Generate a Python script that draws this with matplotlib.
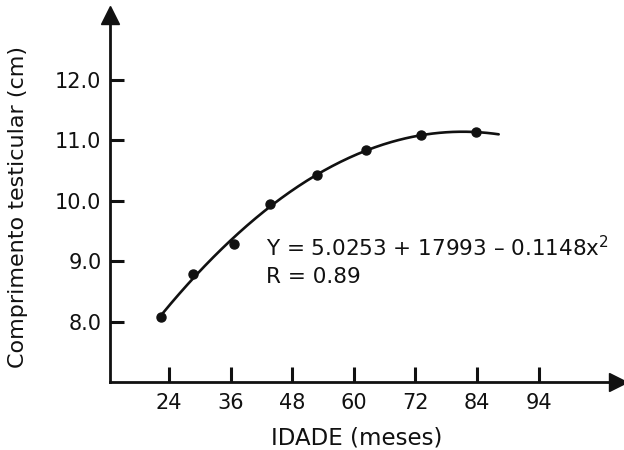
import numpy as np
import matplotlib
matplotlib.use("Agg")
import matplotlib.pyplot as plt

plt.rcParams['font.family'] = ['DejaVu Sans']

idade = [22.4, 28.7, 36.7, 43.6, 52.9, 62.4, 73.1, 83.8]
comprimento = [8.08, 8.78, 9.29, 9.95, 10.43, 10.83, 11.08, 11.13]

# eixos
x_ticks = [24, 36, 48, 60, 72, 84, 96]
x_labels = ["24", "36", "48", "60", "72", "84", "94"]
y_ticks = [8.0, 9.0, 10.0, 11.0, 12.0]
y_labels = ["8.0", "9.0", "10.0", "11.0", "12.0"]

curve_range = [22.4, 88.2]

ink = '#111111'

fig = plt.figure(figsize=(6.24, 4.5), dpi=100)
ax = fig.add_axes([0.176, 0.151, 0.815, 0.816])

# curva de regressao ajustada (quadratica)
coef = np.polyfit(idade, comprimento, 2)
xs = np.linspace(curve_range[0], curve_range[1], 200)
ax.plot(xs, np.polyval(coef, xs), color=ink, lw=1.9, solid_capstyle='round')
ax.plot(idade, comprimento, 'o', color=ink, ms=6.5)

ax.set_xlim(12.5, 111.5)
ax.set_ylim(7.0, 13.07)

for s in ['top', 'right']:
    ax.spines[s].set_visible(False)
for s in ['left', 'bottom']:
    ax.spines[s].set_linewidth(2.0)
    ax.spines[s].set_color(ink)

# setas nos eixos
ax.plot(1, 0, '>', transform=ax.transAxes, clip_on=False, color=ink, ms=13)
ax.plot(0, 1, '^', transform=ax.transAxes, clip_on=False, color=ink, ms=13)

ax.set_xticks(x_ticks)
ax.set_xticklabels(x_labels)
ax.set_yticks(y_ticks)
ax.set_yticklabels(y_labels)
ax.tick_params(axis='x', direction='in', length=11, width=2.2, pad=8,
               labelsize=15, colors=ink)
ax.tick_params(axis='y', direction='in', length=10, width=2.2, pad=6,
               labelsize=15, colors=ink)

ax.set_xlabel("IDADE (meses)", fontsize=16.5, color=ink, labelpad=8)
ax.xaxis.set_label_coords(0.485, -0.12)
ax.set_ylabel("Comprimento testicular (cm)", fontsize=16, color=ink)
ax.yaxis.set_label_coords(-0.161, 0.477)

ax.text(42.9, 9.22, "Y = 5.0253 + 17993 \u2013 0.1148x$^2$", fontsize=15.5,
        color=ink, va='center')
ax.text(42.9, 8.73, "R = 0.89", fontsize=15.5, color=ink, va='center')

fig.savefig("out.png", dpi=100)
